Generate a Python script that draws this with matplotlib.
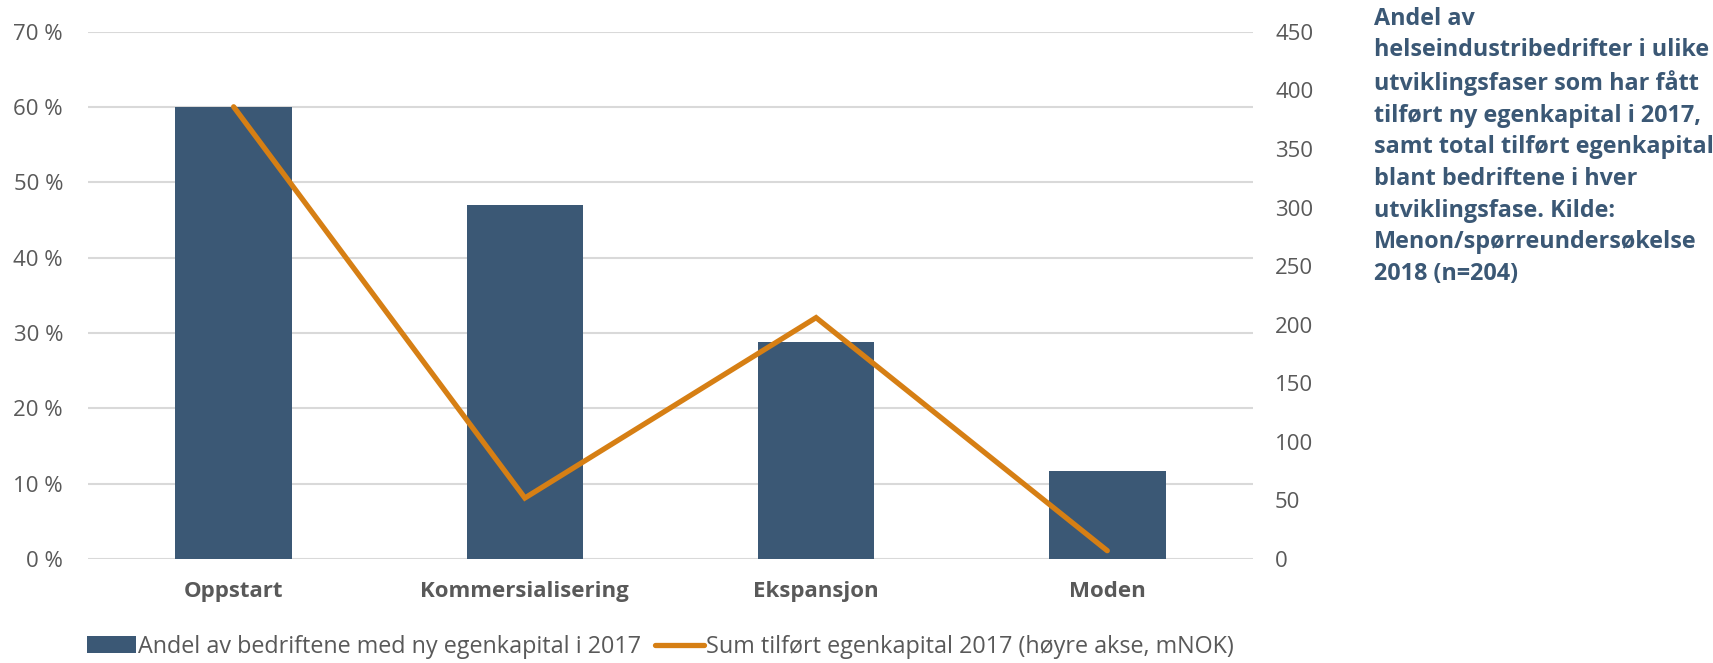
import matplotlib
matplotlib.use("Agg")
import matplotlib.pyplot as plt
from matplotlib.ticker import FuncFormatter, MultipleLocator

# data
categories = ["Oppstart", "Kommersialisering", "Ekspansjon", "Moden"]
andel_pct = [60.0, 47.0, 28.8, 11.7]          # left axis, %
sum_mnok = [386, 52, 206, 7]                  # right axis, mNOK
bar_label = "Andel av bedriftene med ny egenkapital i 2017"
line_label = "Sum tilført egenkapital 2017 (høyre akse, mNOK)"
title = ("Andel av\nhelseindustribedrifter i ulike\nutviklingsfaser som har fått\n"
         "tilført ny egenkapital i 2017,\nsamt total tilført egenkapital\n"
         "blant bedriftene i hver\nutviklingsfase. Kilde:\n"
         "Menon/spørreundersøkelse\n2018 (n=204)")

BAR = "#3B5875"
LINE = "#D67F14"
GRID = "#D9D9D9"
TXT = "#595959"

plt.rcParams["font.family"] = ["Open Sans", "DejaVu Sans"]

fig = plt.figure(figsize=(17.13, 6.63), dpi=100)
ax = fig.add_axes([0.0514, 0.157, 0.680, 0.795])
x = range(len(categories))
bars = ax.bar(x, andel_pct, width=0.40, color=BAR, label=bar_label, zorder=2)
ax.set_xlim(-0.5, 3.5)
ax.set_ylim(0, 70)
ax.yaxis.set_major_locator(MultipleLocator(10))
ax.yaxis.set_major_formatter(FuncFormatter(lambda v, p: f"{v:.0f} %"))
ax.grid(axis="y", color=GRID, lw=1.5, zorder=0)
ax.set_xticks(list(x))
ax.set_xticklabels(categories, fontsize=16, fontweight="bold", color=TXT)
ax.tick_params(axis="y", length=0, pad=18, labelsize=16, labelcolor=TXT)
ax.tick_params(axis="x", length=0, pad=16)
for s in ax.spines.values():
    s.set_visible(False)

ax2 = ax.twinx()
ln, = ax2.plot(x, sum_mnok, color=LINE, lw=3.8, solid_capstyle="round",
               solid_joinstyle="miter", label=line_label, zorder=3)
ax2.set_ylim(0, 450)
ax2.yaxis.set_major_locator(MultipleLocator(50))
ax2.tick_params(axis="y", length=0, pad=16, labelsize=16, labelcolor=TXT)
for s in ax2.spines.values():
    s.set_visible(False)

fig.legend([bars, ln], [bar_label, line_label], loc="center left",
           bbox_to_anchor=(0.0505, 0.024), ncol=2, frameon=False, fontsize=16.8,
           labelcolor=TXT, handlelength=2.1, handleheight=0.75, handletextpad=0.1,
           columnspacing=0.6, borderpad=0, borderaxespad=0)

fig.text(0.802, 0.99, title, ha="left", va="top", fontsize=16.8,
         fontweight="bold", color="#3B5875", linespacing=1.42)

fig.savefig("out.png", dpi=100)
